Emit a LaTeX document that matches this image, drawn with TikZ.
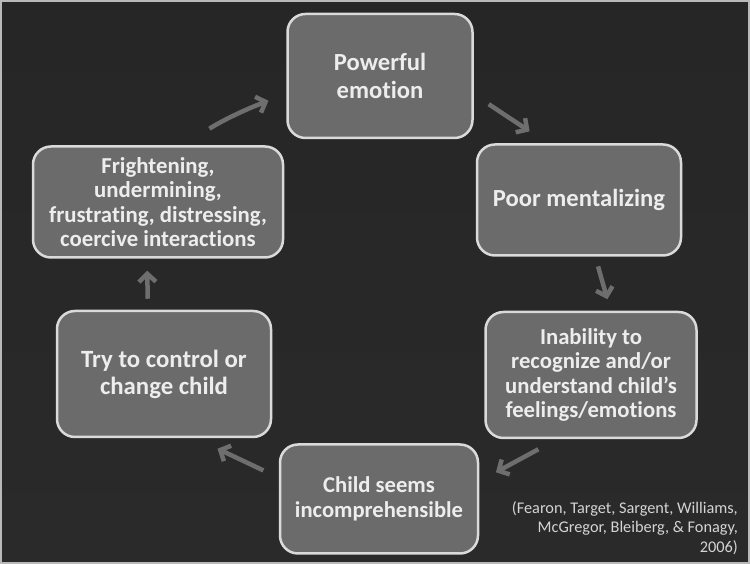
\documentclass[tikz,border=0pt]{standalone}
\usepackage{fontspec}
\setmainfont{Carlito}[Ligatures=NoCommon]
\usetikzlibrary{arrows.meta}

\definecolor{bgtop}{HTML}{262626}
\definecolor{bgmid}{HTML}{383838}
\definecolor{bgbot}{HTML}{2A2A2A}
\definecolor{boxfill}{HTML}{6B6B6B}
\definecolor{boxline}{HTML}{DADADA}
\definecolor{boxtext}{HTML}{EDEDED}
\definecolor{arrowgray}{HTML}{6E6E6E}
\definecolor{citetext}{HTML}{D4D4D4}

\newcommand{\bx}[2]{\fontsize{#1}{#2}\selectfont\bfseries}

\tikzset{
	box/.style = {draw=boxline, fill=boxfill, line width=2.5pt, rounded corners=18pt,
		align=center, text=boxtext, inner sep=4pt},
	flow/.style = {line width=4.5pt, color=arrowgray, ->}
}

\begin{document}
\begin{tikzpicture}[x=1pt, y=1pt, >={Straight Barb[length=8pt, width=17pt]}]
				\useasboundingbox (0,0) rectangle (750,564);
				\shade[top color=bgtop, middle color=bgmid, bottom color=bgbot] (0,0) rectangle (750,564);
				\draw[gray!55, line width=2pt] (1,1) rectangle (749,563);
				
				\node[box, minimum width=185, minimum height=124, font=\bx{24.6}{27.5}] (power) at (380,488) {Powerful\\emotion};
				\node[box, minimum width=204, minimum height=111, font=\bx{24.6}{27}] (poor) at (579,364) {Poor mentalizing};
				\node[box, minimum width=211, minimum height=126, font=\bx{22.7}{24.5}] (inab) at (591,189) {Inability to\\recognize and/or\\understand child’s\\feelings/emotions};
				\node[box, minimum width=198, minimum height=109, font=\bx{22.6}{25.5}] (child) at (379,65) {Child seems\\incomprehensible};
				\node[box, minimum width=214, minimum height=126, font=\bx{24.8}{27}] (ctrl) at (164,190) {Try to control or\\change child};
				\node[box, minimum width=250, minimum height=111, font=\bx{22.8}{24.5}] (fright) at (158,362) {Frightening,\\undermining,\\frustrating, distressing,\\coercive interactions};
				
				\draw[flow, shorten <=31pt, shorten >=19pt] (fright.66.4) to[bend left=6] (power.191.25);
				\draw[flow, shorten <=18pt, shorten >=21.5pt] (power.349.6) -- (poor.119.1);
				\draw[flow, shorten <=10pt, shorten >=12pt] (poor.286.6) -- (inab.73.1);
				\draw[flow, shorten <=21pt, shorten >=19pt] (inab.242.9) -- (child.10.3);
				\draw[flow, shorten <=17pt, shorten >=24.5pt] (child.168.9) -- (ctrl.296.2);
				\draw[flow, shorten <=11pt, shorten >=12pt] (ctrl.104.25) -- (fright.259.9);
				
				\node[anchor=north east, align=right, inner sep=0pt, text=citetext, font=\fontsize{16.3}{19.5}\selectfont] (cite) at (738,63) {(Fearon, Target, Sargent, Williams,\\McGregor, Bleiberg, \& Fonagy,\\2006)};
			\end{tikzpicture}
\end{document}
